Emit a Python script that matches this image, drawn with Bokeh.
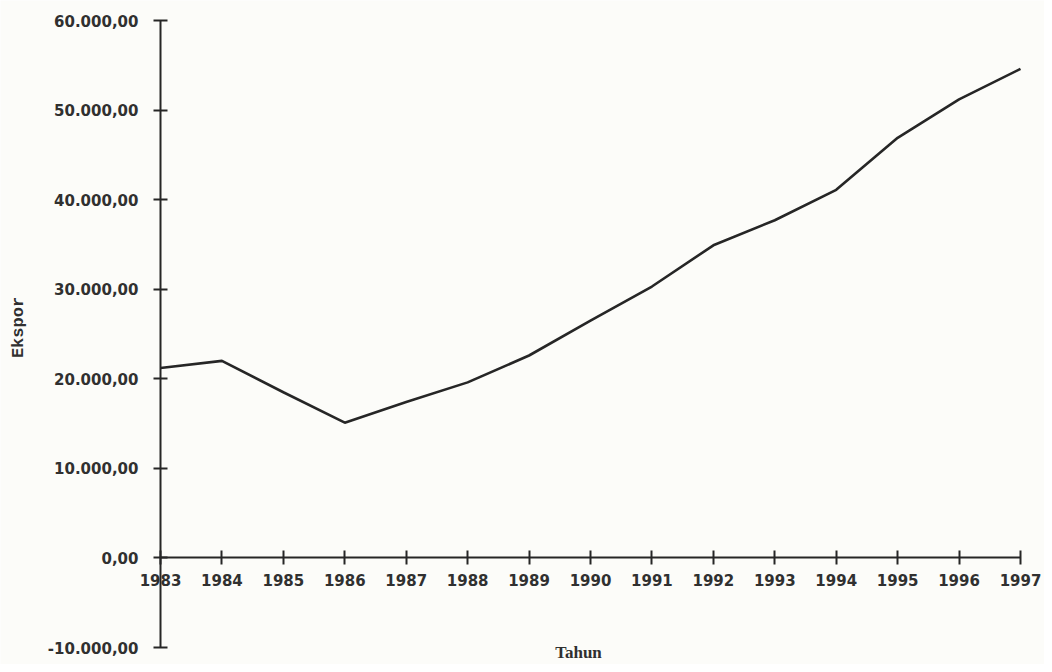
import math
from bokeh.plotting import figure
from bokeh.models import FixedTicker, Range1d, Label
from bokeh.embed import file_html
from bokeh.resources import INLINE

years = [1983, 1984, 1985, 1986, 1987, 1988, 1989, 1990, 1991, 1992, 1993, 1994, 1995, 1996, 1997]
ekspor = [21200, 22000, 18500, 15100, 17400, 19600, 22600, 26500, 30300, 34900, 37700, 41100, 46900, 51200, 54600]
x_tick_labels = ["1983", "1984", "1985", "1986", "1987", "1988", "1989", "1990", "1991",
                 "1992", "1993", "1994", "1995", "1996", "1997"]
y_ticks = [-10000, 0, 10000, 20000, 30000, 40000, 50000, 60000]
y_tick_labels = ["-10.000,00", "0,00", "10.000,00", "20.000,00", "30.000,00",
                 "40.000,00", "50.000,00", "60.000,00"]

ink = "#262626"
txt = "#303030"
bg = "#fcfcf9"

W, H = 1044, 664
# frame spans whole plot; axes are placed inside it at fixed locations
left_px, right_px, top_px, bottom_px = 160, 1020, 20, 647
px_per_year = (right_px - left_px) / (years[-1] - years[0])
px_per_unit = (bottom_px - top_px) / (y_ticks[-1] - y_ticks[0])
x_lo = years[0] - left_px / px_per_year
x_hi = years[-1] + (W - right_px) / px_per_year
y_hi = y_ticks[-1] + top_px / px_per_unit
y_lo = y_ticks[0] - (H - bottom_px) / px_per_unit

p = figure(width=W, height=H, output_backend="svg", toolbar_location=None,
           x_range=Range1d(x_lo, x_hi), y_range=Range1d(y_lo, y_hi),
           min_border=0, background_fill_color=bg, border_fill_color=bg)
p.outline_line_color = None
p.grid.grid_line_color = None

p.line(years, ekspor, line_color=ink, line_width=2.6)

font = "DejaVu Sans"

xa = p.xaxis[0]
xa.fixed_location = 0
xa.bounds = (years[0], years[-1])
xa.ticker = FixedTicker(ticks=years)
xa.major_label_overrides = {y: s for y, s in zip(years, x_tick_labels)}
xa.axis_line_color = ink
xa.axis_line_width = 2
xa.major_tick_line_color = ink
xa.major_tick_line_width = 2
xa.major_tick_in = 7
xa.major_tick_out = 7
xa.minor_tick_line_color = None
xa.major_label_text_font = font
xa.major_label_text_font_style = "bold"
xa.major_label_text_font_size = "15px"
xa.major_label_text_color = txt
xa.major_label_standoff = 9

ya = p.yaxis[0]
ya.fixed_location = years[0]
ya.bounds = (y_ticks[0], y_ticks[-1])
ya.ticker = FixedTicker(ticks=y_ticks)
ya.major_label_overrides = {v: s for v, s in zip(y_ticks, y_tick_labels)}
ya.axis_line_color = ink
ya.axis_line_width = 2
ya.major_tick_line_color = ink
ya.major_tick_line_width = 2
ya.major_tick_in = 7
ya.major_tick_out = 7
ya.minor_tick_line_color = None
ya.major_label_text_font = font
ya.major_label_text_font_style = "bold"
ya.major_label_text_font_size = "15px"
ya.major_label_text_color = txt
ya.major_label_standoff = 15

ekspor_label = Label(x=18, y=H - 327, x_units="screen", y_units="screen", text="Ekspor",
                     angle=math.pi / 2, text_align="center", text_baseline="middle",
                     text_font="Liberation Mono", text_font_style="bold",
                     text_font_size="17px", text_color=txt)
p.add_layout(ekspor_label)

tahun = Label(x=1990, y=y_ticks[0], text="Tahun", text_align="center", text_baseline="middle",
              x_offset=-12, y_offset=-5, text_font="Liberation Serif", text_font_style="bold",
              text_font_size="17px", text_color=txt)
p.add_layout(tahun)

open("out.html", "w").write(file_html(p, INLINE))
